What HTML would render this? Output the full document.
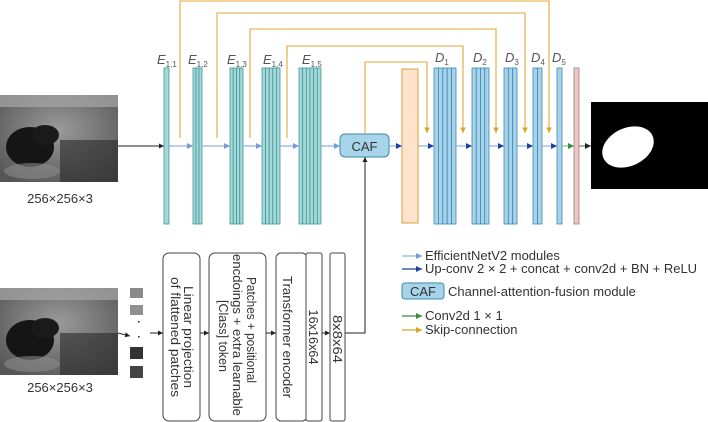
<!DOCTYPE html>
<html><head><meta charset="utf-8"><style>html,body{margin:0;padding:0;background:#fff}svg{display:block}text{font-family:"Liberation Sans",sans-serif}</style></head>
<body>
<svg width="708" height="422" viewBox="0 0 708 422" xmlns="http://www.w3.org/2000/svg">
<defs>
<marker id="aL" markerWidth="6" markerHeight="6" refX="5" refY="3" orient="auto"><path d="M0,0.5 L5,3 L0,5.5z" fill="#7a9bd6"/></marker>
<marker id="aB" markerWidth="6" markerHeight="6" refX="5" refY="3" orient="auto"><path d="M0,0.5 L5,3 L0,5.5z" fill="#1f3fa8"/></marker>
<marker id="aK" markerWidth="6" markerHeight="6" refX="5" refY="3" orient="auto"><path d="M0,0.5 L5,3 L0,5.5z" fill="#222"/></marker>
<marker id="aG" markerWidth="6" markerHeight="6" refX="5" refY="3" orient="auto"><path d="M0,0.5 L5,3 L0,5.5z" fill="#3a8a3a"/></marker>
<marker id="aO" markerWidth="6" markerHeight="6" refX="5" refY="3" orient="auto"><path d="M0,0.5 L5,3 L0,5.5z" fill="#e0a020"/></marker>
<radialGradient id="us" cx="0.5" cy="0.4" r="0.7"><stop offset="0" stop-color="#9a9a9a"/><stop offset="1" stop-color="#555"/></radialGradient>
<g id="img">
<rect x="0" y="0" width="118" height="87" fill="url(#us)"/>
<rect x="0" y="0" width="118" height="12" fill="#a8a8a8" opacity="0.7"/>
<rect x="60" y="45" width="58" height="42" fill="#2a2a2a" opacity="0.6"/>
<ellipse cx="30" cy="52" rx="24" ry="20" fill="#151515"/>
<ellipse cx="45" cy="40" rx="14" ry="10" fill="#1a1a1a"/>
<ellipse cx="32" cy="76" rx="28" ry="8" fill="#888" opacity="0.6"/>
</g>
</defs>

<use href="#img" x="0" y="95"/>
<text x="60" y="203" font-size="13" fill="#333" text-anchor="middle">256×256×3</text>
<use href="#img" x="0" y="288"/>
<text x="60" y="392" font-size="13" fill="#333" text-anchor="middle">256×256×3</text>

<rect x="130" y="288" width="13" height="10" fill="#8a8a8a"/>
<rect x="130" y="305" width="13" height="10" fill="#909090"/>
<rect x="138" y="321" width="1.5" height="1.5" fill="#222"/>
<rect x="138" y="336" width="1.5" height="1.5" fill="#222"/>
<rect x="130" y="347" width="13" height="12" fill="#333"/>
<rect x="130" y="366" width="13" height="12" fill="#444"/>

<line x1="118" y1="146" x2="164" y2="146" stroke="#222" stroke-width="1" marker-end="url(#aK)"/>

<g fill="#a7d8d6" stroke="#3a9a9e" stroke-width="0.8">
<rect x="164" y="68" width="5" height="156"/>
<rect x="193" y="68" width="3" height="156"/><rect x="196" y="68" width="3" height="156"/><rect x="199" y="68" width="3" height="156"/>
<rect x="230" y="68" width="3.25" height="156"/><rect x="233.25" y="68" width="3.25" height="156"/><rect x="236.5" y="68" width="3.25" height="156"/><rect x="239.75" y="68" width="3.25" height="156"/>
<rect x="262" y="68" width="3.6" height="156"/><rect x="265.6" y="68" width="3.6" height="156"/><rect x="269.2" y="68" width="3.6" height="156"/><rect x="272.8" y="68" width="3.6" height="156"/><rect x="276.4" y="68" width="3.6" height="156"/>
<rect x="299" y="68" width="3.67" height="156"/><rect x="302.67" y="68" width="3.67" height="156"/><rect x="306.33" y="68" width="3.67" height="156"/><rect x="310" y="68" width="3.67" height="156"/><rect x="313.67" y="68" width="3.67" height="156"/><rect x="317.33" y="68" width="3.67" height="156"/>
</g>
<g font-size="13" fill="#555" font-style="italic">
<text x="157" y="64">E<tspan font-size="8" font-style="normal" dy="3">1,1</tspan></text>
<text x="188" y="64">E<tspan font-size="8" font-style="normal" dy="3">1,2</tspan></text>
<text x="227" y="64">E<tspan font-size="8" font-style="normal" dy="3">1,3</tspan></text>
<text x="263" y="64">E<tspan font-size="8" font-style="normal" dy="3">1,4</tspan></text>
<text x="302" y="64">E<tspan font-size="8" font-style="normal" dy="3">1,5</tspan></text>
<text x="435" y="62">D<tspan font-size="8" font-style="normal" dy="3">1</tspan></text>
<text x="473" y="62">D<tspan font-size="8" font-style="normal" dy="3">2</tspan></text>
<text x="505" y="62">D<tspan font-size="8" font-style="normal" dy="3">3</tspan></text>
<text x="531" y="62">D<tspan font-size="8" font-style="normal" dy="3">4</tspan></text>
<text x="552" y="62">D<tspan font-size="8" font-style="normal" dy="3">5</tspan></text>
</g>

<g stroke="#8fb0e0" stroke-width="1.2" marker-end="url(#aL)">
<line x1="169" y1="146" x2="193" y2="146"/>
<line x1="202" y1="146" x2="230" y2="146"/>
<line x1="243" y1="146" x2="262" y2="146"/>
<line x1="280" y1="146" x2="299" y2="146"/>
<line x1="321" y1="146" x2="340" y2="146"/>
</g>

<rect x="340" y="134" width="49" height="23" rx="5" fill="#a8d4ea" stroke="#3a8ab0" stroke-width="1"/>
<text x="364.5" y="151" font-size="13" fill="#333" text-anchor="middle">CAF</text>

<rect x="402" y="69" width="16" height="154" fill="#fde3cb" stroke="#e0a030" stroke-width="1"/>

<g fill="#a8d2e8" stroke="#3a8ab8" stroke-width="0.8">
<rect x="434" y="68" width="4.4" height="156"/><rect x="438.4" y="68" width="4.4" height="156"/><rect x="442.8" y="68" width="4.4" height="156"/><rect x="447.2" y="68" width="4.4" height="156"/><rect x="451.6" y="68" width="4.4" height="156"/>
<rect x="472" y="68" width="4.25" height="156"/><rect x="476.25" y="68" width="4.25" height="156"/><rect x="480.5" y="68" width="4.25" height="156"/><rect x="484.75" y="68" width="4.25" height="156"/>
<rect x="504" y="68" width="4.33" height="156"/><rect x="508.33" y="68" width="4.33" height="156"/><rect x="512.67" y="68" width="4.33" height="156"/>
<rect x="533" y="68" width="4.5" height="156"/><rect x="537.5" y="68" width="4.5" height="156"/>
<rect x="557" y="68" width="5" height="156"/>
</g>
<rect x="574" y="68" width="5" height="156" fill="#f2c4c4" stroke="#888" stroke-width="0.8"/>

<g stroke="#8fb0e0" stroke-width="1.2" marker-end="url(#aB)">
<line x1="389" y1="146" x2="402" y2="146"/>
<line x1="418" y1="146" x2="434" y2="146"/>
<line x1="456" y1="146" x2="472" y2="146"/>
<line x1="489" y1="146" x2="504" y2="146"/>
<line x1="517" y1="146" x2="533" y2="146"/>
<line x1="542" y1="146" x2="557" y2="146"/>
</g>
<line x1="562" y1="146" x2="574" y2="146" stroke="#8cc08c" stroke-width="1.2" marker-end="url(#aG)"/>
<line x1="579" y1="146" x2="591" y2="146" stroke="#777" stroke-width="1.2" marker-end="url(#aK)"/>

<rect x="591" y="102" width="117" height="87" fill="#000"/>
<ellipse cx="628" cy="147" rx="27" ry="19" transform="rotate(-25 628 147)" fill="#fff"/>

<g stroke="#e3a93a" stroke-width="1.1" fill="none">
<path d="M180 138 V1 H549 V133" marker-end="url(#aO)"/>
<path d="M217 138 V13 H525 V133" marker-end="url(#aO)"/>
<path d="M250 138 V29 H496 V133" marker-end="url(#aO)"/>
<path d="M287 138 V46 H463 V133" marker-end="url(#aO)"/>
<path d="M365 134 V62 H427 V133" marker-end="url(#aO)"/>
</g>

<g fill="#fff" stroke="#444" stroke-width="1">
<rect x="163" y="253" width="37" height="168" rx="6"/>
<rect x="209" y="253" width="57" height="168" rx="6"/>
<rect x="276" y="253" width="31" height="168" rx="5"/>
<rect x="306" y="253" width="16" height="168" rx="2"/>
<rect x="330" y="253" width="15" height="168" rx="2"/>
</g>
<g font-size="12.5" fill="#333" text-anchor="middle" lengthAdjust="spacingAndGlyphs">
<text transform="translate(184 337) rotate(90)" textLength="102" lengthAdjust="spacingAndGlyphs">Linear projection</text>
<text transform="translate(171 337) rotate(90)" textLength="120" lengthAdjust="spacingAndGlyphs">of flattened patches</text>
<text transform="translate(247 330) rotate(90)" textLength="106" lengthAdjust="spacingAndGlyphs">Patches + positional</text>
<text transform="translate(233 335) rotate(90)" textLength="162" lengthAdjust="spacingAndGlyphs">encdoings + extra learnable</text>
<text transform="translate(219 336) rotate(90)" textLength="72" lengthAdjust="spacingAndGlyphs">[Class] token</text>
<text transform="translate(283 337) rotate(90)" textLength="122" lengthAdjust="spacingAndGlyphs">Transformer encoder</text>
<text transform="translate(309 337) rotate(90)" textLength="55" lengthAdjust="spacingAndGlyphs">16x16x64</text>
<text transform="translate(333 339) rotate(90)" textLength="48" lengthAdjust="spacingAndGlyphs">8x8x64</text>
</g>
<g stroke="#222" stroke-width="1" marker-end="url(#aK)">
<line x1="118" y1="333" x2="130" y2="336"/>
<line x1="150" y1="333" x2="163" y2="333"/>
<line x1="200" y1="333" x2="209" y2="333"/>
<line x1="266" y1="333" x2="276" y2="333"/>
<line x1="322" y1="333" x2="330" y2="333"/>
</g>
<path d="M345 333 H365 V157" stroke="#222" stroke-width="1" fill="none" marker-end="url(#aK)"/>

<g font-size="13" fill="#333">
<line x1="402" y1="256" x2="422" y2="256" stroke="#8fb0e0" stroke-width="1.2" marker-end="url(#aL)"/>
<text x="425" y="260">EfficientNetV2 modules</text>
<line x1="402" y1="269" x2="422" y2="269" stroke="#1f3fa8" stroke-width="1.2" marker-end="url(#aB)"/>
<text x="425" y="273">Up-conv 2 × 2 + concat + conv2d + BN + ReLU</text>
<rect x="402" y="283" width="42" height="16" rx="3" fill="#a8d4ea" stroke="#3a8ab0"/>
<text x="423" y="296" text-anchor="middle">CAF</text>
<text x="448" y="296">Channel-attention-fusion module</text>
<line x1="402" y1="316" x2="422" y2="316" stroke="#3a8a3a" stroke-width="1.2" marker-end="url(#aG)"/>
<text x="425" y="320">Conv2d 1 × 1</text>
<line x1="402" y1="330" x2="422" y2="330" stroke="#e0a020" stroke-width="1.2" marker-end="url(#aO)"/>
<text x="425" y="334">Skip-connection</text>
</g>
</svg>
</body></html>
